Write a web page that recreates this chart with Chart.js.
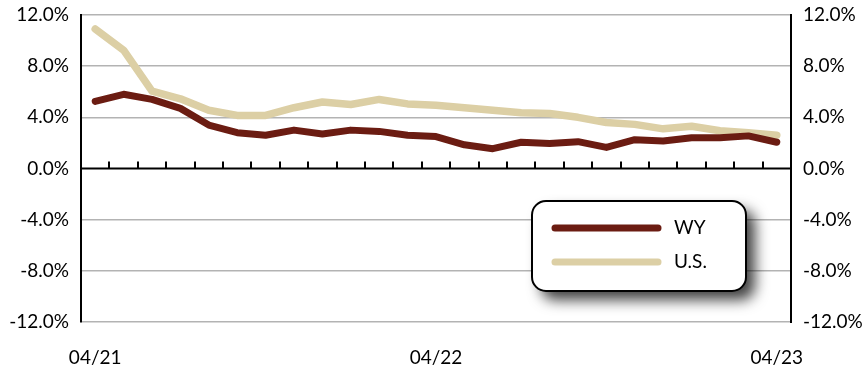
<!DOCTYPE html>
<html><head><meta charset="utf-8">
<script src="https://cdn.jsdelivr.net/npm/chart.js@4/dist/chart.umd.min.js"></script>
<style>html,body{margin:0;padding:0;background:#fff}#wrap{width:865px;height:368px}</style>
</head><body><div id="wrap"><canvas id="c" width="865" height="368"></canvas></div>
<script>
const categories = ['04/21','05/21','06/21','07/21','08/21','09/21','10/21','11/21','12/21','01/22','02/22','03/22','04/22','05/22','06/22','07/22','08/22','09/22','10/22','11/22','12/22','01/23','02/23','03/23','04/23'];
const wyValues = [5.25,5.8,5.4,4.7,3.4,2.8,2.6,3.0,2.7,3.0,2.9,2.6,2.5,1.85,1.55,2.05,1.95,2.1,1.65,2.25,2.15,2.4,2.4,2.55,2.05];
const usValues = [10.9,9.25,6.05,5.45,4.55,4.15,4.15,4.75,5.2,5.0,5.4,5.05,4.95,4.75,4.55,4.35,4.3,4.0,3.6,3.45,3.1,3.3,2.95,2.8,2.6];
const xTickLabels = ['04/21','04/22','04/23'];
const seriesNames = ['WY','U.S.'];
const seriesColors = ['#6b1c12','#dccfa5'];

const FONT = 'Lato, "Open Sans", sans-serif';

const axisPlugin = {
  id: 'axisPlugin',
  beforeDatasetsDraw(chart) {
    const {ctx, chartArea: a, scales: {x, y}} = chart;
    const y0 = y.getPixelForValue(0);
    ctx.save();
    ctx.strokeStyle = '#000';
    ctx.lineWidth = 2;
    ctx.beginPath();
    ctx.moveTo(a.left, y0); ctx.lineTo(a.right, y0);
    for (let i = 0; i < categories.length - 1; i++) {
      const px = Math.round((x.getPixelForValue(i) + x.getPixelForValue(i + 1)) / 2);
      ctx.moveTo(px, y0); ctx.lineTo(px, y0 - 7);
    }
    ctx.stroke();
    ctx.restore();
  }
};

const legendPlugin = {
  id: 'boxLegend',
  afterDraw(chart) {
    const ctx = chart.ctx;
    const bx = 532, by = 201, bw = 214, bh = 90, r = 14;
    ctx.save();
    ctx.beginPath();
    ctx.roundRect(bx, by, bw, bh, r);
    ctx.shadowColor = 'rgba(0,0,0,0.75)';
    ctx.shadowBlur = 14;
    ctx.shadowOffsetX = 9;
    ctx.shadowOffsetY = 9;
    ctx.fillStyle = '#fff';
    ctx.fill();
    ctx.shadowColor = 'transparent';
    ctx.lineWidth = 2;
    ctx.strokeStyle = '#000';
    ctx.stroke();
    chart.data.datasets.forEach((ds, i) => {
      const ly = 228 + i * 34;
      ctx.beginPath();
      ctx.lineCap = 'round';
      ctx.lineWidth = 7;
      ctx.strokeStyle = ds.borderColor;
      ctx.moveTo(555, ly); ctx.lineTo(658, ly);
      ctx.stroke();
      ctx.fillStyle = '#000';
      ctx.font = '19px ' + FONT;
      ctx.textBaseline = 'middle';
      ctx.textAlign = 'left';
      ctx.fillText(ds.label, 674, ly);
    });
    ctx.restore();
  }
};

const yTickCb = v => v.toFixed(1) + '%';
function fixV(w) { return s => { s.width = w; s.paddingTop = 0; s.paddingBottom = 0; }; }

new Chart(document.getElementById('c'), {
  type: 'line',
  data: {
    labels: categories,
    datasets: [
      {label: seriesNames[0], data: wyValues, order: 0, borderColor: seriesColors[0], backgroundColor: seriesColors[0], borderWidth: 7, pointRadius: 0, tension: 0, borderCapStyle: 'round', borderJoinStyle: 'round', yAxisID: 'y'},
      {label: seriesNames[1], data: usValues, order: 1, borderColor: seriesColors[1], backgroundColor: seriesColors[1], borderWidth: 7.5, pointRadius: 0, tension: 0, borderCapStyle: 'round', borderJoinStyle: 'round', yAxisID: 'y'}
    ]
  },
  options: {
    responsive: false,
    animation: false,
    layout: {padding: {top: 15, left: 0, right: 0, bottom: 0}},
    plugins: {legend: {display: false}, tooltip: {enabled: false}},
    scales: {
      x: {
        offset: true,
        grid: {display: false},
        border: {display: false},
        ticks: {
          autoSkip: false, maxRotation: 0, padding: 16, color: '#000',
          font: {family: FONT, size: 19},
          callback: (v, i) => xTickLabels.includes(categories[i]) ? categories[i] : ''
        },
        afterFit(s) { s.height = 46; s.paddingLeft = 0; s.paddingRight = 0; }
      },
      y: {
        position: 'left', min: -12, max: 12,
        ticks: {stepSize: 4, padding: 12, color: '#000', font: {family: FONT, size: 19}, callback: yTickCb},
        grid: {color: c => c.tick && c.tick.value === 0 ? 'rgba(0,0,0,0)' : '#b3b3b3', lineWidth: 1.5, drawTicks: false},
        border: {color: '#000', width: 2},
        afterFit: fixV(81)
      },
      y2: {
        position: 'right', min: -12, max: 12,
        ticks: {stepSize: 4, padding: 12, color: '#000', font: {family: FONT, size: 19}, callback: yTickCb},
        grid: {drawOnChartArea: false, drawTicks: false},
        border: {color: '#000', width: 2},
        afterFit: fixV(74)
      }
    }
  },
  plugins: [axisPlugin, legendPlugin]
});
</script>
</body></html>
